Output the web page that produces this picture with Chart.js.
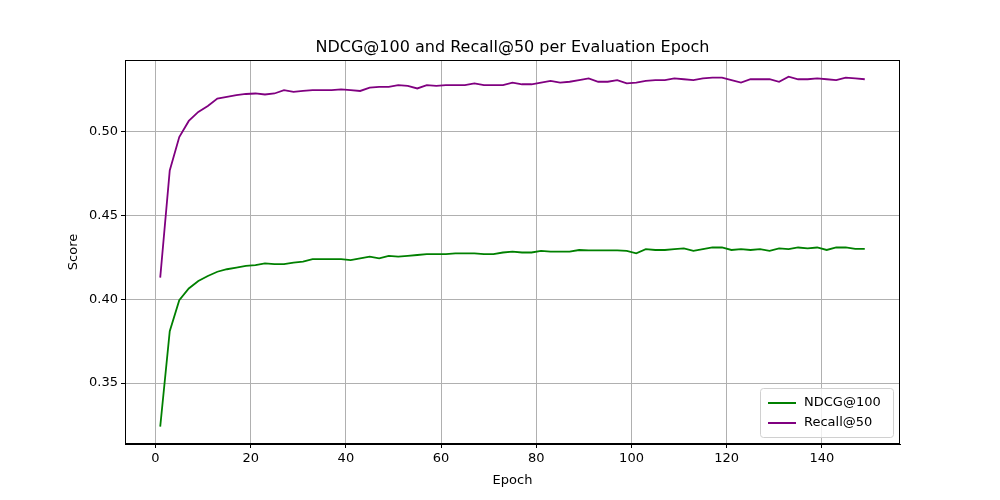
<!DOCTYPE html>
<html><head><script src="https://cdn.jsdelivr.net/npm/chart.js@4"></script>
<style>body{margin:0;background:#fff}#w{width:1000px;height:500px}</style></head>
<body><div id="w"><canvas id="c"></canvas></div>
<script>
const epochs = [];
for (let e = 1; e <= 149; e += 2) epochs.push(e);
const recall = [0.413,0.477,0.497,0.5066,0.512,0.5155,0.520,0.521,0.522,0.5227,0.523,0.5224,0.523,0.525,0.524,0.5245,0.525,0.525,0.525,0.5255,0.525,0.5245,0.5265,0.527,0.527,0.528,0.5275,0.526,0.528,0.5275,0.528,0.528,0.528,0.529,0.528,0.528,0.528,0.5295,0.5285,0.5285,0.5295,0.5305,0.5295,0.530,0.531,0.532,0.530,0.530,0.531,0.529,0.5295,0.5305,0.531,0.531,0.532,0.5315,0.531,0.532,0.5325,0.5325,0.531,0.5295,0.5315,0.5315,0.5315,0.530,0.533,0.5315,0.5315,0.532,0.5315,0.531,0.5325,0.532,0.5315];
const ndcg = [0.324,0.381,0.3995,0.4065,0.411,0.414,0.4165,0.418,0.419,0.420,0.4205,0.4215,0.421,0.421,0.422,0.4225,0.424,0.424,0.424,0.424,0.4235,0.4245,0.4255,0.4245,0.426,0.4255,0.426,0.4265,0.427,0.427,0.427,0.4275,0.4275,0.4275,0.427,0.427,0.428,0.4285,0.428,0.428,0.429,0.4285,0.4285,0.4285,0.4295,0.4293,0.4293,0.4293,0.4293,0.429,0.4275,0.430,0.4295,0.4295,0.430,0.4305,0.429,0.430,0.431,0.431,0.4295,0.430,0.4295,0.430,0.429,0.4305,0.430,0.431,0.4305,0.431,0.4295,0.431,0.431,0.4302,0.4302];
const xTicks = [0,20,40,60,80,100,120,140];
const yTicks = [0.35,0.40,0.45,0.50];
const F = 'DejaVu Sans';
const deco = {id:'deco', afterDraw(ch){
  const c=ch.ctx, a=ch.chartArea; c.save(); c.fillStyle='#000';
  c.strokeStyle='#000'; c.lineWidth=1; c.strokeRect(a.left+0.5,a.top+0.5,a.right-a.left-1,a.bottom-a.top-1);
  c.font='16px '+F; c.textAlign='center'; c.textBaseline='alphabetic';
  c.fillText('NDCG@100 and Recall@50 per Evaluation Epoch',(a.left+a.right)/2,a.top-8);
  c.font='13px '+F; c.fillText('Epoch',(a.left+a.right)/2,a.bottom+40);
  c.translate(77,(a.top+a.bottom)/2); c.rotate(-Math.PI/2); c.fillText('Score',0,0); c.restore();
  c.save(); const x=a.right-140,y=a.bottom-56,w=133,h=49;
  c.fillStyle='rgba(255,255,255,0.8)'; c.strokeStyle='#d0d0d0'; c.lineWidth=1;
  c.beginPath(); c.roundRect(x+0.5,y+0.5,w,h,3); c.fill(); c.stroke();
  const items=[['NDCG@100','green'],['Recall@50','purple']];
  c.font='13px '+F; c.textBaseline='middle'; c.textAlign='left';
  items.forEach((it,i)=>{const yy=y+15+i*20; c.strokeStyle=it[1]; c.lineWidth=2;
    c.beginPath(); c.moveTo(x+8,yy); c.lineTo(x+36,yy); c.stroke(); c.fillStyle='#000'; c.fillText(it[0],x+44,yy);});
  c.restore();
}};
new Chart(document.getElementById('c'),{type:'line',
 data:{datasets:[
  {label:'NDCG@100',data:epochs.map((e,i)=>({x:e,y:ndcg[i]})),borderColor:'green',borderWidth:1.8,pointRadius:0,tension:0},
  {label:'Recall@50',data:epochs.map((e,i)=>({x:e,y:recall[i]})),borderColor:'purple',borderWidth:1.8,pointRadius:0,tension:0}]},
 options:{responsive:true,maintainAspectRatio:false,animation:false,
  layout:{padding:{top:60,right:100,left:0,bottom:0}},
  plugins:{legend:{display:false},tooltip:{enabled:false}},
  scales:{
   x:{type:'linear',min:-6.4,max:156.4,afterBuildTicks:s=>{s.ticks=xTicks.map(v=>({value:v}))},
      afterFit:s=>{s.height=56},
      grid:{color:'#b0b0b0',tickLength:4,tickColor:'#000'},border:{color:'#000'},
      ticks:{color:'#000',font:{family:F,size:13},padding:3,maxRotation:0}},
   y:{min:0.3136,max:0.543,afterBuildTicks:s=>{s.ticks=yTicks.map(v=>({value:v}))},
      afterFit:s=>{s.width=125},
      grid:{color:'#b0b0b0',tickLength:4,tickColor:'#000'},border:{color:'#000'},
      ticks:{color:'#000',font:{family:F,size:13},padding:3,callback:v=>v.toFixed(2)}}}},
 plugins:[deco]});
</script></body></html>
